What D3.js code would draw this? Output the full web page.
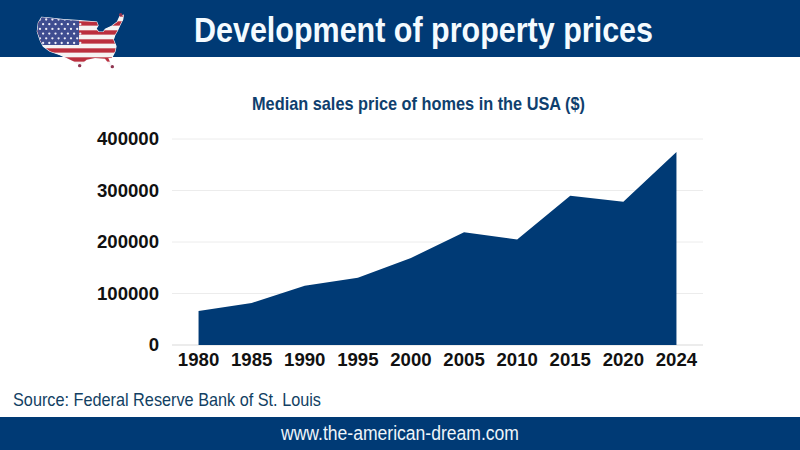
<!DOCTYPE html>
<html lang="en">
  <head>
    <meta charset="UTF-8" />
    <title>Development of property prices</title>
    <script src="https://d3js.org/d3.v7.min.js"></script>
    <style>
      html, body { margin: 0; padding: 0; background: #fff; overflow: hidden; }
      text { font-family: "Liberation Sans", sans-serif; }
      .axis text { font-family: "Liberation Sans", sans-serif; font-weight: 700; font-size: 18.6px; fill: #111; }
    </style>
  </head>
  <body>
    <div id="chart"></div>
    <script>
      const years = ["1980", "1985", "1990", "1995", "2000", "2005", "2010", "2015", "2020", "2024"];
      const prices = [66000, 81500, 115000, 130700, 169000, 219000, 205000, 290000, 278000, 375000];
      const yTicks = [0, 100000, 200000, 300000, 400000];

      const width = 800;
      const height = 450;
      const navy = "#003a75";

      const svg = d3.select("#chart").append("svg")
        .attr("width", width)
        .attr("height", height)
        .style("display", "block");

      // Header and footer bands
      svg.append("rect").attr("width", width).attr("height", 57).attr("fill", navy);
      svg.append("rect").attr("y", 417).attr("width", width).attr("height", 33).attr("fill", navy);

      // The narrow look of the original type is done by squeezing to the measured width
      function label(txt, x0, base, size, len, fill, bold) {
        svg.append("text")
          .attr("x", x0).attr("y", base)
          .attr("font-size", size)
          .attr("font-weight", bold ? 700 : 400)
          .attr("fill", fill)
          .attr("textLength", len)
          .attr("lengthAdjust", "spacingAndGlyphs")
          .text(txt);
      }
      label("Development of property prices", 194, 42, 35, 459, "#f4fbff", true);
      label("Median sales price of homes in the USA ($)", 252, 110, 19, 333, "#0f3f6e", true);
      label("Source: Federal Reserve Bank of St. Louis", 13, 405.5, 19, 308, "#123f63", false);
      label("www.the-american-dream.com", 281, 440, 20, 238, "#eef5fa", false);

      // Chart scales
      const x = d3.scaleBand().domain(years).range([172, 703]);
      const y = d3.scaleLinear().domain([0, 400000]).range([345, 139]);
      const xMid = (d) => x(d) + x.bandwidth() / 2;

      svg.append("g").selectAll("line").data(yTicks).join("line")
        .attr("x1", 172).attr("x2", 703)
        .attr("y1", (d) => y(d)).attr("y2", (d) => y(d))
        .attr("stroke", (d) => (d === 0 ? "#d9d9d9" : "#ececec"))
        .attr("stroke-width", 1);

      const area = d3.area()
        .x((d, i) => xMid(years[i]))
        .y0(y(0))
        .y1((d) => y(d));

      svg.append("path").datum(prices).attr("d", area).attr("fill", navy);

      const xAxis = d3.axisBottom(x).tickSize(0).tickPadding(8);
      svg.append("g").attr("class", "axis").attr("transform", "translate(0,345)")
        .call(xAxis).call((g) => g.select(".domain").remove());

      const yAxis = d3.axisLeft(y).tickValues(yTicks).tickFormat(d3.format("d")).tickSize(0).tickPadding(13);
      svg.append("g").attr("class", "axis").attr("transform", "translate(172,0)")
        .call(yAxis).call((g) => g.select(".domain").remove());

      const outline = [[35,28],[60,30],[100,35],[148,38],[200,42],[204,52],[198,62],[206,72],[220,72],[226,64],[245,55],[262,42],[270,25],[280,22],[278,35],[270,50],[262,68],[255,80],[250,95],[258,115],[255,130],[245,150],[235,150],[243,170],[250,178],[240,172],[225,152],[195,150],[170,155],[150,172],[130,160],[110,150],[90,140],[60,130],[40,115],[30,95],[22,70],[25,45]];
      const tips = [[272,20],[149,173],[247,176]];
      const iconX = d3.scaleLinear().domain([0, 300]).range([30, 130]);
      const iconY = d3.scaleLinear().domain([0, 192]).range([8, 72]);
      const outlinePts = outline.map((p) => [iconX(p[0]), iconY(p[1])].join(",")).join(" ");

      svg.append("defs").append("clipPath").attr("id", "usClip").append("polygon")
        .attr("points", outlinePts);

      svg.append("polygon").attr("points", outlinePts)
        .attr("fill", "#f6f3f3").attr("stroke", "#f4f6fa").attr("stroke-width", 1.2);

      const flag = svg.append("g").attr("clip-path", "url(#usClip)");
      const stripeCount = d3.range(15);
      const stripe = d3.scaleBand().domain(stripeCount).range([12.3, 79.8]);
      flag.selectAll("rect.stripe").data(stripeCount).join("rect")
        .attr("class", "stripe")
        .attr("x", 36).attr("width", 90)
        .attr("y", (d) => stripe(d)).attr("height", stripe.bandwidth())
        .attr("fill", (d) => (d % 2 === 0 ? "#bb2f3e" : "#f6f3f3"));
      flag.append("rect").attr("x", 36).attr("y", 15).attr("width", 43).attr("height", 30).attr("fill", "#3f4d90");
      const starRows = d3.range(6);
      const starCols = d3.range(7);
      flag.selectAll("g.star-row").data(starRows).join("g")
        .attr("class", "star-row")
        .selectAll("circle")
        .data((r) => starCols.map((c) => [c, r]))
        .join("circle")
        .attr("cx", (d) => 40 + d[0] * 6.2 + (d[1] % 2) * 3.1)
        .attr("cy", (d) => 19.5 + d[1] * 4.7)
        .attr("r", 1.15)
        .attr("fill", "#eeeef8");

      svg.append("g").selectAll("circle").data(tips).join("circle")
        .attr("cx", (d) => iconX(d[0]))
        .attr("cy", (d) => iconY(d[1]))
        .attr("r", 1.7)
        .attr("fill", "#8f3550");
    </script>
  </body>
</html>
